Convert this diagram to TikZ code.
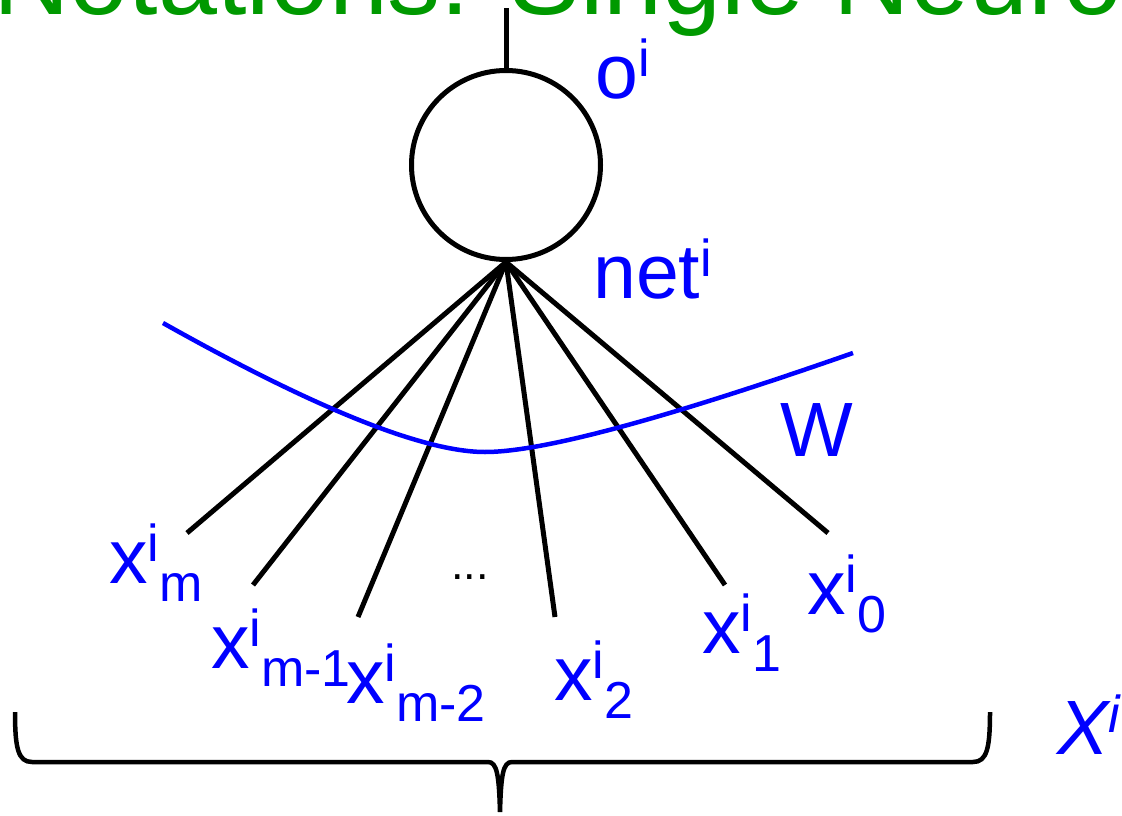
\documentclass[tikz,border=0pt]{standalone}
\usepackage{fontspec}
\setmainfont{Liberation Sans}
\usepackage{xcolor}
\usetikzlibrary{positioning}
\definecolor{titlegreen}{RGB}{0,153,0}
\newcommand{\bigf}{\fontsize{77}{77}\selectfont}
\newcommand{\smf}{\fontsize{52}{52}\selectfont}
\newcommand{\supi}{\raisebox{22pt}{\smf i}}
\newcommand{\subx}[1]{\raisebox{-18pt}{\smf #1}}
\newcommand{\xin}[1]{x\supi\subx{#1}}

\begin{document}
\begin{tikzpicture}[x=1pt, y=-1pt,
    lab/.style={anchor=base west, inner sep=0pt, text=blue, font=\bigf},
    neur/.style={circle, draw, line width=5pt, minimum size=189pt, inner sep=0pt},
    wire/.style={line width=5pt, black},
    wcurve/.style={line width=4.5pt, blue},
  ]
  \useasboundingbox (0,0) rectangle (1122,816);
  % title, cut by the page edge
  \node[anchor=base west, inner sep=0pt, text=titlegreen,
        font=\fontsize{106}{106}\selectfont] (title) at (-7,15) {Notations: Single Neuron};
  % the neuron and its output
  \node[neur] (neuron) at (506,165) {};
  \coordinate (out) at (506,8);
  \draw[wire] (neuron.north) -- (out);
  % inputs
  \foreach \k/\x/\y in {m/187/533, m1/253/585, m2/358/617, 2/555/617, 1/725/585, 0/828/533}
    \coordinate (in\k) at (\x,\y);
  \foreach \k in {m, m1, m2, 2, 1, 0}
    \draw[wire] (neuron.south) -- (in\k);
  % weights
  \coordinate (wl) at (163,323);
  \coordinate (wb) at (485,452);
  \coordinate (wr) at (853,353);
  \draw[wcurve] (wl) .. controls (316,409) and (424,452) .. (wb)
                     .. controls (542,452) and (664,419) .. (wr);
  % labels
  \node[lab] (lo) at (595,99) {o\supi};
  \node[lab] (lnet) at (593,298) {net\supi};
  \node[lab] (lw) at (780,456) {W};
  \node[lab] (xm) at (109,583) {\xin{m}};
  \node[lab] (xm1) at (211,668) {\xin{m-1}};
  \node[lab] (xm2) at (346,703) {\xin{m-2}};
  \node[lab] (x2) at (554,700) {\xin{2}};
  \node[lab] (x1) at (702,653) {\xin{1}};
  \node[lab] (x0) at (807,614) {\xin{0}};
  \node[anchor=base, inner sep=0pt, font=\fontsize{45}{45}\selectfont] (dots) at (470,579) {...};
  % input vector brace
  \draw[line width=4.5pt] (15,712) .. controls (15,748) and (18,762) .. (32,762) -- (488,762)
      .. controls (497,762) and (499,775) .. (500,812)
      .. controls (501,775) and (503,762) .. (512,762) -- (973,762)
      .. controls (987,762) and (990,748) .. (990,712);
  \node[lab, font=\bigf\itshape] (lx) at (1057,754) {X\supi};
\end{tikzpicture}
\end{document}
